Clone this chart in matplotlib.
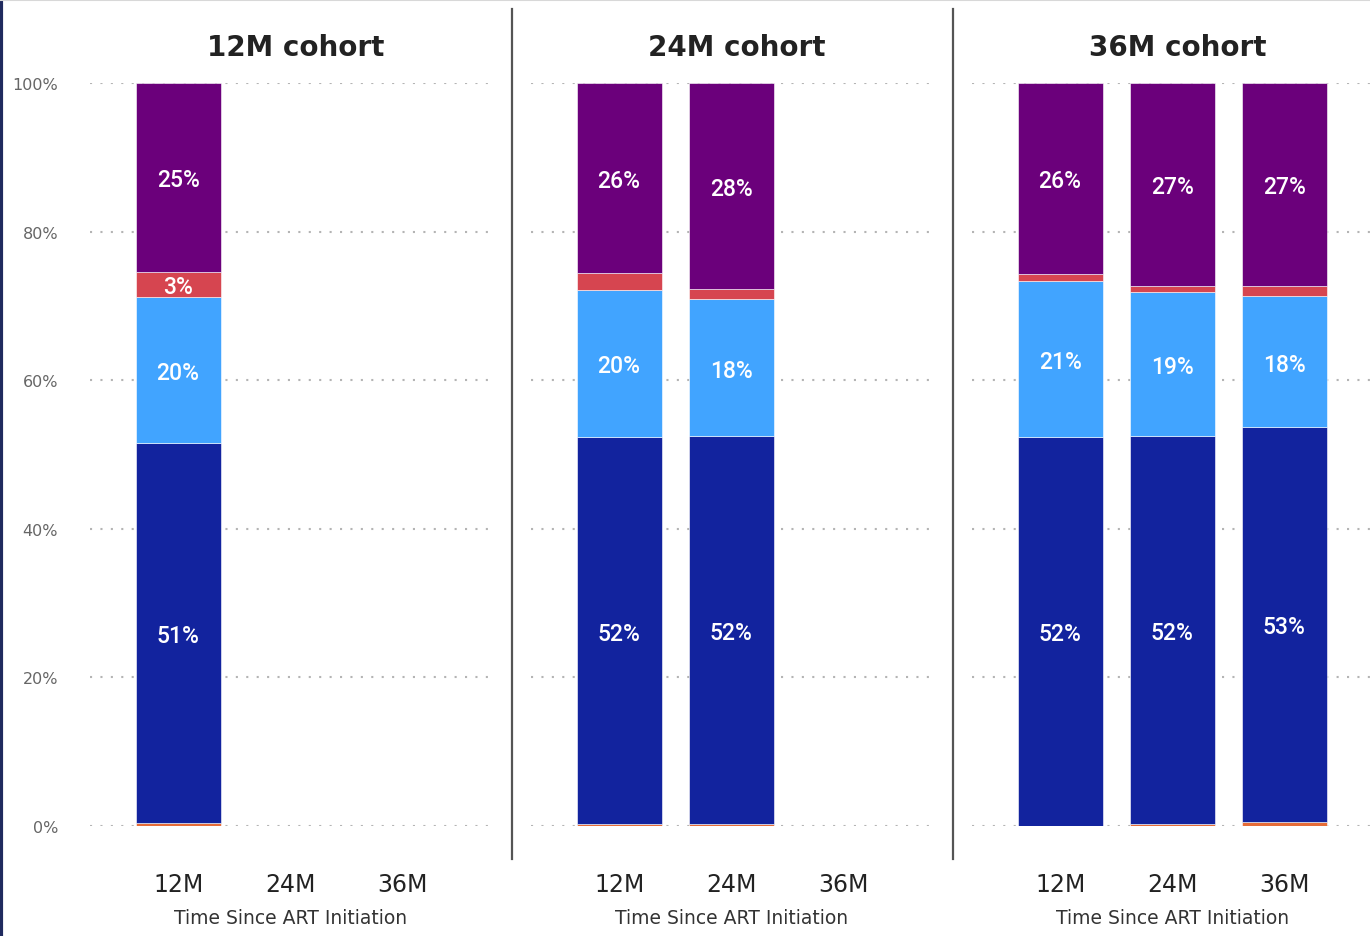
import numpy as np
import matplotlib.pyplot as plt
from matplotlib.lines import Line2D

# cohorts and time points
cohorts = ['12M cohort', '24M cohort', '36M cohort']
times = ['12M', '24M', '36M']

# segment shares (%), per cohort, one value per time point (None = no data)
orange = [[0.4, None, None], [0.3, 0.3, None], [0.0, 0.3, 0.6]]
navy = [[51.1, None, None], [52.0, 52.2, None], [52.4, 52.2, 53.1]]
light_blue = [[19.7, None, None], [19.9, 18.4, None], [21.0, 19.4, 17.6]]
red = [[3.4, None, None], [2.2, 1.4, None], [0.9, 0.8, 1.4]]
purple = [[25.4, None, None], [25.6, 27.7, None], [25.7, 27.3, 27.3]]

series = [orange, navy, light_blue, red, purple]
colors = ['#E66C37', '#12239E', '#41A4FF', '#D64550', '#6B007B']

W, H = 1370, 937
fig = plt.figure(figsize=(W / 100, H / 100), dpi=100)

lefts = [90, 531, 972]
for k, cohort in enumerate(cohorts):
    ax = fig.add_axes([lefts[k] / W, (H - 827) / H, 402 / W, 743 / H])
    x = np.arange(len(times))
    bottom = np.zeros(len(times))
    for s, col in zip(series, colors):
        vals = np.array([v if v is not None else 0 for v in s[k]], dtype=float)
        has = np.array([v is not None for v in s[k]])
        ax.bar(x[has], vals[has], bottom=bottom[has], width=0.76,
               color=col, edgecolor='white', linewidth=0.4, zorder=3)
        for xi, v, b in zip(x[has], vals[has], bottom[has]):
            if v >= 3:
                ax.text(xi, b + v / 2, f'{v:.0f}%', ha='center', va='center_baseline',
                        color='white', fontsize=16.5, family='Roboto',
                        fontweight='medium', zorder=4)
        bottom[has] += vals[has]

    ax.set_xlim(-0.786, 2.80)
    ax.set_ylim(0, 100)
    ax.set_yticks(np.arange(0, 101, 20))
    ax.grid(axis='y', color='#B4B4B4', linestyle=(0, (1, 4)), linewidth=1.5, zorder=0)
    for sp in ax.spines.values():
        sp.set_visible(False)
    ax.set_xticks(x)
    ax.set_xticklabels(times, fontsize=17, color='#222222')
    ax.tick_params(axis='x', length=0, pad=33)
    ax.tick_params(axis='y', length=0, pad=23, labelsize=11.5, labelcolor='#666666')
    if k == 0:
        ax.set_yticklabels([f'{t}%' for t in range(0, 101, 20)])
    else:
        ax.set_yticklabels([])
    ax.set_xlabel('Time Since ART Initiation', fontsize=13.5, color='#333333', labelpad=9)
    fig.text((lefts[k] + 206) / W, 1 - 48 / H, cohort, ha='center', va='center',
             fontsize=20, fontweight='bold', color='#222222')

# panel dividers and frame edges
for xd in [512, 953]:
    fig.add_artist(Line2D([xd / W, xd / W], [1 - 10 / H, 1 - 860 / H],
                          color='#555555', linewidth=1.6))
fig.add_artist(Line2D([0.001, 0.001], [0, 1], color='#1F2A5E', linewidth=3))
fig.add_artist(Line2D([0, 1], [0.999, 0.999], color='#D8D8D8', linewidth=1.5))

fig.savefig('out.png', dpi=100)
